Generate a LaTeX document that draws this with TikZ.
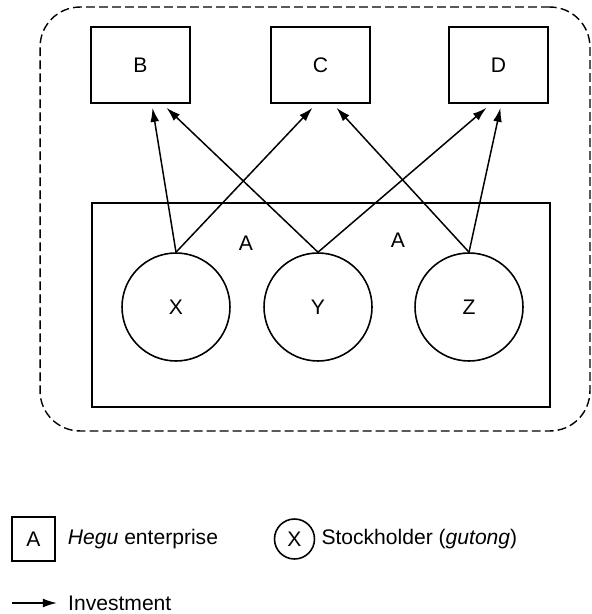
\documentclass[tikz,border=0pt]{standalone}
\usepackage{fontspec}
\setmainfont{Liberation Sans}
\usetikzlibrary{arrows.meta, positioning}

\begin{document}
\begin{tikzpicture}[
  x=0.02cm, y=-0.02cm,
  every node/.style={font=\fontsize{12}{14}\selectfont},
  firm/.style={draw, line width=0.9pt, minimum width=1.98cm, minimum height=1.52cm, inner sep=0pt},
  holder/.style={draw, circle, line width=0.9pt, minimum size=2.16cm, inner sep=0pt},
  invest/.style={line width=0.85pt, -{Latex[length=8pt,width=5pt]}},
  group/.style={draw, dash pattern=on 5pt off 2.4pt, line width=0.8pt, rounded corners=0.8cm}
]
\useasboundingbox (0,0) rectangle (591,614);

% group boundary and the hegu enterprise
\node[group, minimum width=11cm, minimum height=8.48cm] (grp) at (315,219) {};
\node[draw, line width=0.9pt, minimum width=9.16cm, minimum height=4.08cm] (firmA) at (321,305) {};
\node (labA1) at (246,243) {A};
\node (labA2) at (398,240) {A};

% invested enterprises
\node[firm] (B) at (140.5,65) {B};
\node[firm] (C) at (320.5,65) {C};
\node[firm] (D) at (498.5,65) {D};

% stockholders
\node[holder] (X) at (176,307) {X};
\node[holder] (Y) at (318,307) {Y};
\node[holder] (Z) at (469,307) {Z};

% investments
\draw[invest] (X.north) -- ([shift={(12,4)}]B.south);
\draw[invest] (Y.north) -- ([shift={(26,4)}]B.south);
\draw[invest] (X.north) -- ([shift={(-8,4)}]C.south);
\draw[invest] (Z.north) -- ([shift={(16,4)}]C.south);
\draw[invest] (Y.north) -- ([shift={(-12,4)}]D.south);
\draw[invest] (Z.north) -- ([shift={(2,4)}]D.south);

% legend
\node[draw, line width=0.9pt, minimum width=0.86cm, minimum height=0.88cm, inner sep=0pt] (keyA) at (33.5,539) {A};
\node[right=0.12cm of keyA] (keyAtxt) {\textit{Hegu} enterprise};
\node[draw, circle, line width=0.9pt, minimum size=0.8cm, inner sep=0pt] (keyX) at (294.5,539) {X};
\node[right=0pt of keyX] (keyXtxt) {Stockholder (\textit{gutong})};
\coordinate (arrS) at (12,603);
\coordinate (arrE) at (57,603);
\draw[invest] (arrS) -- (arrE);
\node[right=0.1cm of arrE] (arrtxt) {Investment};
\end{tikzpicture}
\end{document}
